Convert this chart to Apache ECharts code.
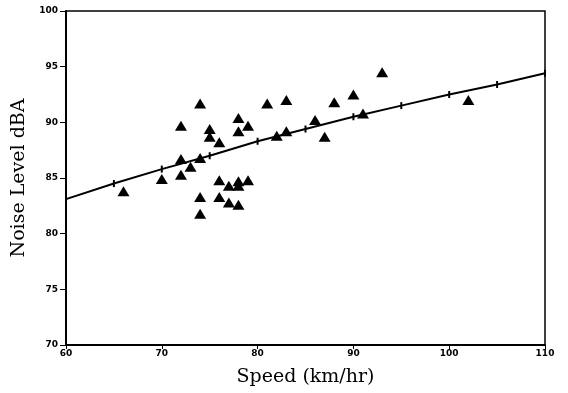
<!DOCTYPE html>
<html>
<head>
<meta charset="utf-8">
<script src="https://cdn.jsdelivr.net/npm/echarts@6/dist/echarts.min.js"></script>
<style>
  html, body { margin: 0; padding: 0; background: #fff; }
  #chart { width: 568px; height: 393px; }
</style>
</head>
<body>
<div id="chart"></div>
<script>
// measured noise levels: [speed km/hr, dBA]
const observations = [
  [66, 83.8], [70, 84.9], [72, 85.3], [72, 86.7], [72, 89.7],
  [73, 86.0], [74, 81.8], [74, 83.3], [74, 86.8], [74, 91.7],
  [75, 88.7], [75, 89.4], [76, 83.3], [76, 84.8], [76, 88.2],
  [77, 82.8], [77, 84.3], [78, 82.6], [78, 84.3], [78, 84.7],
  [78, 89.2], [78, 90.4], [79, 84.8], [79, 89.7], [81, 91.7],
  [82, 88.8], [83, 89.2], [83, 92.0], [86, 90.2], [87, 88.7],
  [88, 91.8], [90, 92.5], [91, 90.8], [93, 94.5], [102, 92.0]
];

// fitted curve
const fitSpeed = [60, 65, 70, 75, 80, 85, 90, 95, 100, 105, 110];
const fitLevel = [83.1, 84.5, 85.8, 87.0, 88.3, 89.4, 90.5, 91.5, 92.5, 93.4, 94.4];

const xTicks = [60, 70, 80, 90, 100, 110];
const yTicks = [70, 75, 80, 85, 90, 95, 100];

const chart = echarts.init(document.getElementById('chart'));

const tickLabel = {
  color: '#000',
  fontFamily: 'DejaVu Sans',
  fontWeight: 'bold',
  fontSize: 9
};

chart.setOption({
  animation: false,
  grid: {
    left: 66, right: 23, top: 11, bottom: 48,
    show: true, borderColor: '#000', borderWidth: 1.5
  },
  xAxis: {
    type: 'value',
    min: xTicks[0], max: xTicks[xTicks.length - 1], interval: 10,
    name: 'Speed (km/hr)',
    nameLocation: 'middle',
    nameGap: 23,
    nameTextStyle: { color: '#000', fontFamily: 'DejaVu Serif', fontSize: 19 },
    axisLine: { lineStyle: { color: '#000', width: 2 } },
    axisTick: { length: 4, lineStyle: { color: '#000' } },
    axisLabel: Object.assign({ margin: 4 }, tickLabel),
    splitLine: { show: false }
  },
  yAxis: {
    type: 'value',
    min: yTicks[0], max: yTicks[yTicks.length - 1], interval: 5,
    name: 'Noise Level dBA',
    nameLocation: 'middle',
    nameGap: 37,
    nameTextStyle: { color: '#000', fontFamily: 'DejaVu Serif', fontSize: 19 },
    axisLine: { lineStyle: { color: '#000', width: 2 } },
    axisTick: { length: 6, lineStyle: { color: '#000' } },
    axisLabel: Object.assign({ margin: 8 }, tickLabel),
    splitLine: { show: false }
  },
  series: [
    {
      type: 'line',
      data: fitSpeed.map((s, i) => [s, fitLevel[i]]),
      lineStyle: { color: '#000', width: 2 },
      symbol: 'rect',
      symbolSize: [2, 7],
      itemStyle: { color: '#000' },
      z: 3
    },
    {
      type: 'scatter',
      data: observations,
      symbol: 'triangle',
      symbolSize: [12, 10],
      itemStyle: { color: '#000', opacity: 1 },
      z: 4
    }
  ]
});
</script>
</body>
</html>
